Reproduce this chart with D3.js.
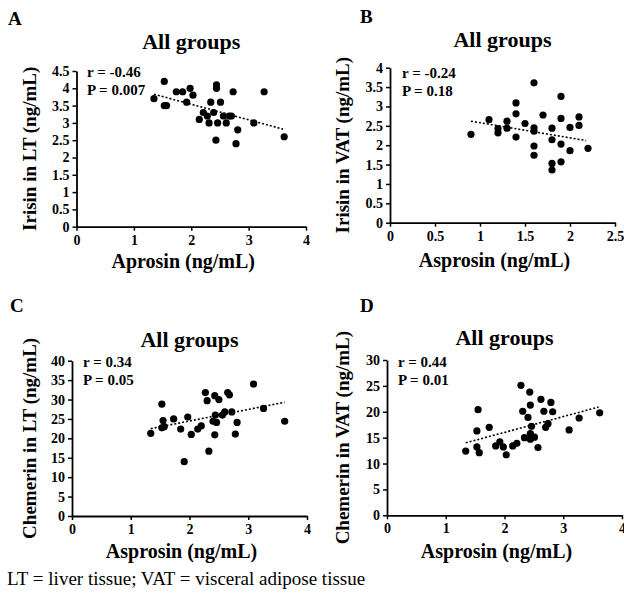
<!DOCTYPE html>
<html>
<head>
<meta charset="utf-8">
<script src="https://cdn.jsdelivr.net/npm/d3@7"></script>
<style>
  body { margin: 0; background: #fff; }
  svg text { font-family: "Liberation Serif", "Times New Roman", serif; fill: #000; }
</style>
</head>
<body>
<svg></svg>
<script>
const width = 624;
const height = 594;

// panel A: irisin in liver tissue vs asprosin
const irisinLT_x = [1.35, 1.53, 1.53, 1.57, 1.74, 1.85, 1.92, 1.98, 2.03, 2.14, 2.21, 2.28, 2.31, 2.34, 2.39,
  2.44, 2.44, 2.43, 2.46, 2.51, 2.56, 2.61, 2.66, 2.70, 2.73, 2.78, 2.81, 3.09, 3.27, 3.62];
const irisinLT_y = [3.7, 4.2, 3.5, 3.5, 3.9, 3.9, 3.6, 4.0, 3.8, 3.1, 3.3, 3.2, 3.0, 3.6, 3.3,
  4.1, 4.0, 2.5, 3.0, 3.6, 3.2, 3.0, 3.2, 3.2, 3.9, 2.4, 2.8, 3.0, 3.9, 2.6];
const trendA_x = [1.35, 3.6];
const trendA_y = [3.83, 2.82];

// panel B: irisin in visceral adipose tissue vs asprosin
const irisinVAT_x = [0.9, 1.1, 1.2, 1.2, 1.3, 1.3, 1.4, 1.4, 1.4, 1.5, 1.6, 1.6, 1.6, 1.6, 1.6,
  1.7, 1.8, 1.8, 1.8, 1.8, 1.9, 1.9, 1.9, 1.9, 2.0, 2.0, 2.1, 2.1, 2.2];
const irisinVAT_y = [2.28, 2.66, 2.43, 2.32, 2.62, 2.44, 3.09, 2.81, 2.21, 2.56, 3.61, 2.45, 2.36, 1.98, 1.74,
  2.78, 2.44, 2.14, 1.53, 1.36, 3.26, 2.69, 2.03, 1.57, 2.46, 1.86, 2.73, 2.51, 1.92];
const trendB_x = [0.9, 2.18];
const trendB_y = [2.62, 2.12];

// panel C: chemerin in liver tissue vs asprosin
const chemerinLT_x = [1.34, 1.53, 1.53, 1.55, 1.57, 1.73, 1.85, 1.91, 1.97, 2.03, 2.14, 2.2, 2.27, 2.3, 2.33, 2.4,
  2.43, 2.44, 2.43, 2.46, 2.5, 2.56, 2.6, 2.65, 2.68, 2.72, 2.78, 2.81, 3.09, 3.26, 3.62];
const chemerinLT_y = [21.3, 28.8, 22.7, 24.6, 23.0, 25.0, 22.4, 14.0, 25.5, 21.0, 22.4, 23.2, 31.8, 29.7, 16.7, 24.4,
  31.0, 26.0, 20.9, 24.1, 30.0, 26.0, 26.8, 31.8, 31.2, 26.8, 21.1, 24.1, 34.0, 27.7, 24.4];
const trendC_x = [1.34, 3.62];
const trendC_y = [22.5, 29.3];

// panel D: chemerin in visceral adipose tissue vs asprosin
const chemerinVAT_x = [1.34, 1.55, 1.53, 1.53, 1.57, 1.74, 1.85, 1.92, 1.98, 2.03, 2.14, 2.21, 2.28, 2.31, 2.34, 2.4,
  2.43, 2.44, 2.46, 2.44, 2.44, 2.51, 2.57, 2.62, 2.67, 2.7, 2.74, 2.79, 2.82, 3.1, 3.27, 3.62];
const chemerinVAT_y = [12.4, 20.4, 16.3, 13.2, 12.1, 17.0, 13.4, 14.2, 13.2, 11.7, 13.4, 13.9, 25.1, 20.1, 15.0, 18.9,
  23.8, 21.3, 17.2, 15.8, 14.7, 15.1, 13.1, 22.4, 20.1, 17.0, 17.7, 21.8, 20.0, 16.5, 18.8, 19.8];
const trendD_x = [1.34, 3.6];
const trendD_y = [14.0, 20.9];

// ticks
const ticksA_x = [0, 1, 2, 3, 4];
const ticksA_y = [0, 0.5, 1, 1.5, 2, 2.5, 3, 3.5, 4, 4.5];
const ticksB_x = [0, 0.5, 1, 1.5, 2, 2.5];
const ticksB_y = [0, 0.5, 1, 1.5, 2, 2.5, 3, 3.5, 4];
const ticksC_x = [0, 1, 2, 3, 4];
const ticksC_y = [0, 5, 10, 15, 20, 25, 30, 35, 40];
const ticksD_x = [0, 1, 2, 3, 4];
const ticksD_y = [0, 5, 10, 15, 20, 25, 30];

const svg = d3.select("svg").attr("width", width).attr("height", height);

const panels = [
  { letter: "A", xs: irisinLT_x, ys: irisinLT_y, tx: trendA_x, ty: trendA_y, xt: ticksA_x, yt: ticksA_y,
    r: "r = -0.46", p: "P = 0.007", xlab: "Aprosin (ng/mL)", ylab: "Irisin in LT (ng/mL)",
    px: [76.5, 306], py: [226.7, 71], letterPos: [8, 25], titleY: 49, ylabX: 29, xlabY: 268, annX: 87, annY: 77 },
  { letter: "B", xs: irisinVAT_x, ys: irisinVAT_y, tx: trendB_x, ty: trendB_y, xt: ticksB_x, yt: ticksB_y,
    r: "r = -0.24", p: "P = 0.18", xlab: "Asprosin (ng/mL)", ylab: "Irisin in VAT (ng/mL)",
    px: [390, 615], py: [222.7, 67.7], letterPos: [360, 23], titleY: 47, ylabX: 342, xlabY: 267, annX: 402, annY: 78 },
  { letter: "C", xs: chemerinLT_x, ys: chemerinLT_y, tx: trendC_x, ty: trendC_y, xt: ticksC_x, yt: ticksC_y,
    r: "r = 0.34", p: "P = 0.05", xlab: "Asprosin (ng/mL)", ylab: "Chemerin in LT (ng/mL)",
    px: [72, 307], py: [516, 360.7], letterPos: [10, 312], titleY: 347, ylabX: 29, xlabY: 558, annX: 83, annY: 367 },
  { letter: "D", xs: chemerinVAT_x, ys: chemerinVAT_y, tx: trendD_x, ty: trendD_y, xt: ticksD_x, yt: ticksD_y,
    r: "r = 0.44", p: "P = 0.01", xlab: "Asprosin (ng/mL)", ylab: "Chemerin in VAT (ng/mL)",
    px: [387, 622], py: [515.3, 360], letterPos: [360, 312], titleY: 345, ylabX: 342, xlabY: 558, annX: 398, annY: 367 }
];

panels.forEach((c) => {
  const x = d3.scaleLinear().domain([c.xt[0], c.xt[c.xt.length - 1]]).range(c.px);
  const y = d3.scaleLinear().domain([c.yt[0], c.yt[c.yt.length - 1]]).range(c.py);
  const g = svg.append("g");

  //axes
  const xAxis = g.append("g")
    .attr("transform", `translate(0,${c.py[0]})`)
    .call(d3.axisBottom(x).tickValues(c.xt).tickFormat(String).tickSize(4).tickSizeOuter(0).tickPadding(4));
  const yAxis = g.append("g")
    .attr("transform", `translate(${c.px[0]},0)`)
    .call(d3.axisLeft(y).tickValues(c.yt).tickFormat(String).tickSize(4).tickSizeOuter(0).tickPadding(3));
  [xAxis, yAxis].forEach((a) => {
    a.select(".domain").attr("stroke", "#000").attr("stroke-width", 1.8);
    a.selectAll(".tick line").attr("stroke", "#000").attr("stroke-width", 1.5);
    a.selectAll(".tick text").attr("font-size", 14).attr("font-weight", "bold")
      .attr("font-family", "Liberation Serif").attr("fill", "#000");
  });

  //points
  g.append("g").selectAll("circle")
    .data(c.xs.map((v, i) => [v, c.ys[i]]))
    .enter()
    .append("circle")
    .attr("cx", (d) => x(d[0]))
    .attr("cy", (d) => y(d[1]))
    .attr("r", 3.6)
    .attr("fill", "#000");

  //trend line
  g.append("line")
    .attr("x1", x(c.tx[0])).attr("y1", y(c.ty[0]))
    .attr("x2", x(c.tx[1])).attr("y2", y(c.ty[1]))
    .attr("stroke", "#000").attr("stroke-width", 1.6)
    .attr("stroke-dasharray", "2,2");

  //texts
  g.append("text").attr("x", c.letterPos[0]).attr("y", c.letterPos[1])
    .attr("font-size", 19).attr("font-weight", "bold").text(c.letter);
  g.append("text").attr("x", (c.px[0] + c.px[1]) / 2).attr("y", c.titleY)
    .attr("text-anchor", "middle").attr("font-size", 22).attr("font-weight", "bold").text("All groups");
  g.append("text").attr("x", (c.px[0] + c.px[1]) / 2 - 8).attr("y", c.xlabY)
    .attr("text-anchor", "middle").attr("font-size", 20).attr("font-weight", "bold").text(c.xlab);
  g.append("text")
    .attr("transform", `translate(${c.ylabX},${(c.py[0] + c.py[1]) / 2}) rotate(-90)`)
    .attr("text-anchor", "middle").attr("dominant-baseline", "central")
    .attr("font-size", 19).attr("font-weight", "bold").text(c.ylab);
  g.append("text").attr("x", c.annX).attr("y", c.annY)
    .attr("font-size", 15).attr("font-weight", "bold").text(c.r);
  g.append("text").attr("x", c.annX).attr("y", c.annY + 18)
    .attr("font-size", 15).attr("font-weight", "bold").text(c.p);
});

svg.append("text").attr("x", 7).attr("y", 585)
  .attr("font-size", 19).text("LT = liver tissue; VAT = visceral adipose tissue");
</script>
</body>
</html>
